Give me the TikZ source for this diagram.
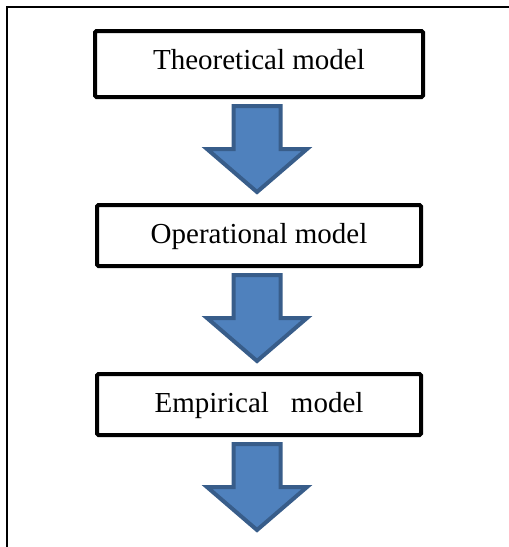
\documentclass[tikz,border=0pt]{standalone}
\usepackage{fontspec}
\setmainfont{Liberation Serif}
\usetikzlibrary{calc}

\definecolor{arrowfill}{HTML}{4F81BD}
\definecolor{arrowline}{HTML}{385D8A}

\tikzset{
  modelbox/.style={draw=black, line width=4pt, rounded corners=1.5pt,
                   fill=white, inner sep=0pt},
  boxlabel/.style={anchor=base, inner sep=0pt,
                   font=\fontsize{29}{34}\selectfont},
  frameline/.style={draw=black, line width=2.6pt},
  blockarrow/.pic={
    \draw[fill=arrowfill, draw=arrowline, line width=4pt, line join=miter]
      (-23.5,0) -- (23.5,0) -- (23.5,43) -- (50,43) -- (0,86)
      -- (-50,43) -- (-23.5,43) -- cycle;
  }
}

\begin{document}
\begin{tikzpicture}[x=1pt, y=-1pt]
  \useasboundingbox (0,0) rectangle (509,547);

  % outer frame (top and left edges)
  \coordinate (fbl) at (7,547);
  \coordinate (ftl) at (7,7);
  \coordinate (ftr) at (509,7);
  \draw[frameline] (fbl) -- (ftl) -- (ftr);

  % model boxes
  \node[modelbox, minimum width=328pt, minimum height=66pt] (b1) at (259,64) {};
  \node[modelbox, minimum width=324pt, minimum height=61pt] (b2) at (259,235.5) {};
  \node[modelbox, minimum width=324pt, minimum height=61pt] (b3) at (259,404.5) {};

  % labels
  \node[boxlabel] (t1) at (259,69) {Theoretical model};
  \node[boxlabel] (t2) at (259,243) {Operational model};
  \node[boxlabel] (t3) at (259,412) {Empirical\hspace{22pt}model};

  % block arrows between the boxes
  \path (b1.south) ++(-2,7) pic {blockarrow};
  \path (b2.south) ++(-2,7) pic {blockarrow};
  \path (b3.south) ++(-2,7) pic {blockarrow};
\end{tikzpicture}
\end{document}
